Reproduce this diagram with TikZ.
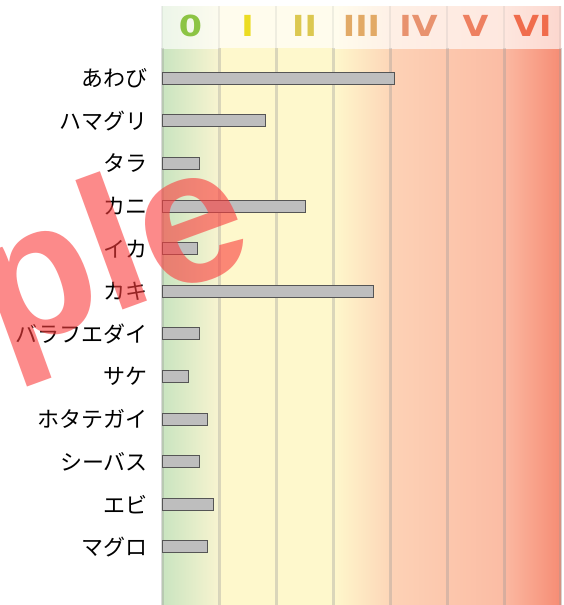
\documentclass[tikz,border=0pt]{standalone}
\usepackage{fontspec}
\newfontfamily\jpfont{Noto Sans CJK JP}
\newfontfamily\hdrfont{DejaVu Sans}
\newfontfamily\wmfont{Liberation Sans}
\definecolor{cg}{HTML}{C9E4C0}
\definecolor{cgr}{HTML}{F8F4D0}
\definecolor{cy}{HTML}{FEF8CC}
\definecolor{cp}{HTML}{FDD6B8}
\definecolor{cpa}{HTML}{FDD2B6}
\definecolor{cpb}{HTML}{FBBCA4}
\definecolor{cra}{HTML}{FBB9A2}
\definecolor{crb}{HTML}{F68C74}
\definecolor{h0}{HTML}{8CC444}
\definecolor{h1}{HTML}{ECDC22}
\definecolor{h2}{HTML}{DCC850}
\definecolor{h3}{HTML}{E2AA66}
\definecolor{h4}{HTML}{E8926E}
\definecolor{h5}{HTML}{EE8060}
\definecolor{h6}{HTML}{F06C4C}
\definecolor{barfill}{HTML}{BEBEBE}
\definecolor{barline}{HTML}{555555}
\definecolor{wm}{HTML}{FA3C3C}
\begin{document}
\begin{tikzpicture}[x=1pt,y=-1pt,
  divider/.style={draw=gray!80, line width=3pt, opacity=0.35},
  hdivider/.style={draw=gray!80, line width=2pt, opacity=0.15},
  bar/.style={draw=barline, fill=barfill, line width=1pt, inner sep=0pt, minimum height=12pt, anchor=west},
  lab/.style={font=\jpfont\fontsize{22}{24}\selectfont, anchor=east, inner sep=0pt},
  hdr/.style={font=\hdrfont\bfseries\fontsize{29}{30}\selectfont, xscale=1.15, inner sep=0pt}
]
\useasboundingbox (0,0) rectangle (563,605);
\fill[white] (0,0) rectangle (563,605);
% plot background
\shade[left color=cg, right color=cgr] (162,48) rectangle (219,605);
\fill[cy] (219,48) rectangle (333,605);
\shade[left color=cy, right color=cp] (333,48) rectangle (390,605);
\shade[left color=cpa, right color=cpb] (390,48) rectangle (504,605);
\shade[left color=cra, right color=crb] (504,48) rectangle (561,605);
% header band
\shade[left color=cg!35!white, right color=cgr!35!white] (162,6) rectangle (219,48);
\fill[cy!35!white] (219,6) rectangle (333,48);
\shade[left color=cy!35!white, right color=cp!35!white] (333,6) rectangle (390,48);
\shade[left color=cpa!35!white, right color=cpb!35!white] (390,6) rectangle (504,48);
\shade[left color=cra!35!white, right color=crb!35!white] (504,6) rectangle (561,48);
% dividers
\foreach \x in {162,219,276,333,390,447,504,560}{
  \draw[divider] (\x,48) -- (\x,605);
  \draw[hdivider] (\x,6) -- (\x,48);
}
% header labels
\node[hdr, text=h0] (c0) at (190.5,26) {0};
\node[hdr, text=h1] (c1) at (247.5,26) {I};
\node[hdr, text=h2] (c2) at (304.5,26) {II};
\node[hdr, text=h3] (c3) at (361.5,26) {III};
\node[hdr, text=h4] (c4) at (418.5,26) {IV};
\node[hdr, text=h5] (c5) at (475.5,26) {V};
\node[hdr, text=h6] (c6) at (532.5,26) {VI};
% labels and bars
\foreach \t/\xr [count=\i] in {あわび/394, ハマグリ/265, タラ/199, カニ/305, イカ/197, カキ/373, バラフエダイ/199, サケ/188, ホタテガイ/207, シーバス/199, エビ/213, マグロ/207}{
  \pgfmathsetmacro\yy{78.3+42.6*(\i-1)}
  \pgfmathsetmacro\ww{\xr-162}
  \node[lab] (l\i) at (148,\yy) {\t};
  \node[bar, minimum width=\ww pt] (b\i) at (162,\yy) {};
}
% watermark
\node[font=\wmfont\bfseries\fontsize{190}{190}\selectfont, text=wm, text opacity=0.6,
  rotate=20, anchor=base west, inner sep=0pt] (wmark) at (1.5,354.6) {ple};
\end{tikzpicture}
\end{document}
